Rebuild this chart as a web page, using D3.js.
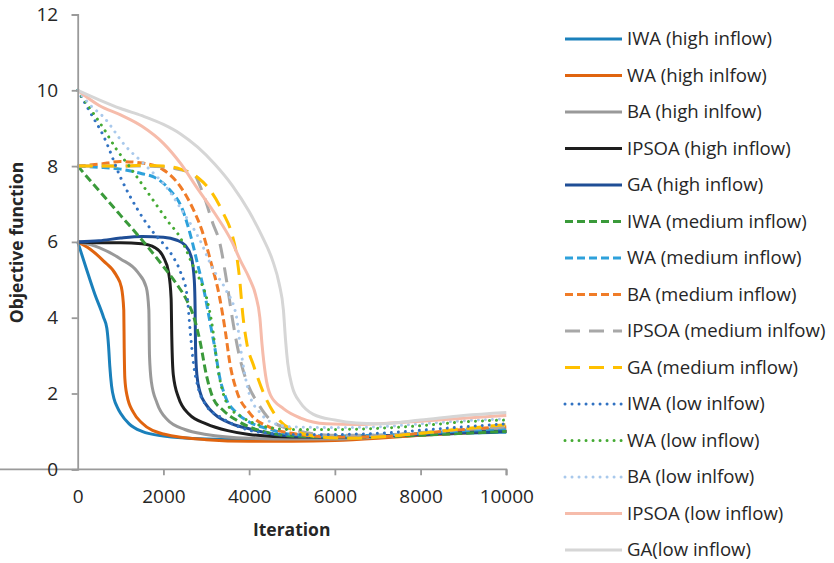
<!DOCTYPE html>
<html><head><meta charset="utf-8">
<script src="https://cdn.jsdelivr.net/npm/d3@7"></script>
<style>
html,body{margin:0;padding:0;background:#fff;}
svg{display:block;font-family:"Open Sans",sans-serif;}
</style></head>
<body><svg id="chart" width="834" height="563"></svg>
<script>
// ---- data (iteration, objective function) ----
const iwaHigh = [[0,6],[200,5.3],[400,4.62],[600,4.02],[680,3.72],[720,3.25],[750,2.7],[790,2.2],[850,1.85],[920,1.65],[1000,1.48],[1200,1.2],[1500,1.0],[2000,0.88],[3000,0.8],[4000,0.78],[5000,0.78],[6000,0.8],[7000,0.85],[8000,0.9],[9000,0.95],[10000,0.98]];
const waHigh = [[0,6],[300,5.8],[600,5.5],[900,5.12],[1020,4.8],[1075,4.2],[1085,3.2],[1100,2.4],[1150,1.95],[1300,1.5],[1500,1.22],[2000,0.93],[3000,0.78],[4000,0.74],[5000,0.74],[6000,0.76],[7000,0.82],[8000,0.9],[9000,0.96],[10000,1.02]];
const baHigh = [[0,6],[500,5.85],[1000,5.55],[1400,5.2],[1600,4.8],[1660,4.2],[1675,3.0],[1720,2.3],[1850,1.75],[2100,1.3],[2500,1.05],[3000,0.92],[4000,0.82],[5000,0.8],[6000,0.8],[7000,0.85],[8000,0.92],[9000,1.0],[10000,1.05]];
const ipsoaHigh = [[0,6],[500,5.98],[1000,5.98],[1500,5.95],[1800,5.85],[2000,5.6],[2120,5.2],[2180,4.5],[2195,3.5],[2230,2.5],[2350,1.9],[2600,1.45],[3000,1.2],[3500,1.02],[4000,0.92],[5000,0.85],[6000,0.85],[7000,0.88],[8000,0.92],[9000,0.97],[10000,1.0]];
const gaHigh = [[0,6],[500,6.03],[1000,6.1],[1500,6.14],[2000,6.12],[2300,6.05],[2500,5.92],[2650,5.6],[2720,5.0],[2740,4.2],[2750,3.2],[2780,2.5],[2850,2.05],[3000,1.7],[3200,1.45],[3600,1.2],[4000,1.07],[4600,0.92],[5000,0.88],[6000,0.85],[7000,0.88],[8000,0.92],[9000,0.97],[10000,1.0]];
const iwaMedium = [[0,8],[500,7.35],[1000,6.7],[1500,6.05],[2000,5.35],[2300,4.9],[2550,4.45],[2700,4.05],[2850,3.4],[3000,2.5],[3150,1.9],[3400,1.55],[3700,1.3],[4000,1.12],[4400,0.98],[5000,0.88],[6000,0.85],[7000,0.86],[8000,0.9],[9000,0.95],[10000,1.0]];
const waMedium = [[0,8],[500,7.97],[1000,7.92],[1500,7.8],[1800,7.7],[2150,7.37],[2450,6.84],[2650,6.1],[2800,5.4],[2950,4.7],[3100,3.8],[3200,3.2],[3300,2.5],[3450,1.9],[3700,1.5],[4000,1.25],[4500,1.05],[5000,0.92],[6000,0.88],[7000,0.9],[8000,0.95],[9000,1.02],[10000,1.08]];
const baMedium = [[0,8],[500,8.05],[1000,8.12],[1500,8.08],[2000,7.9],[2400,7.45],[2700,6.85],[2900,6.3],[3100,5.5],[3300,4.6],[3450,3.6],[3550,2.8],[3700,2.1],[4000,1.5],[4500,1.1],[5000,0.95],[6000,0.85],[7000,0.86],[8000,0.95],[9000,1.05],[10000,1.12]];
const ipsoaMedium = [[0,8],[500,8.0],[1000,8.0],[1500,8.0],[2000,7.98],[2400,7.9],[2700,7.8],[2900,7.35],[3150,6.5],[3320,5.95],[3470,5.0],[3620,3.9],[3770,3.0],[3950,2.3],[4200,1.75],[4500,1.3],[5000,1.05],[6000,0.9],[7000,0.9],[8000,0.97],[9000,1.05],[10000,1.12]];
const gaMedium = [[0,8],[500,8.0],[1000,8.0],[1500,8.02],[2000,8.0],[2400,7.92],[2800,7.7],[3100,7.35],[3400,6.75],[3600,6.2],[3700,5.7],[3780,5.0],[3850,4.1],[3950,3.3],[4100,2.75],[4400,1.85],[4700,1.3],[5100,1.0],[5700,0.85],[6500,0.82],[7000,0.85],[8000,0.95],[9000,1.07],[10000,1.18]];
const iwaLow = [[0,10],[300,9.4],[600,8.8],[1000,7.7],[1400,6.85],[1800,6.2],[2000,5.95],[2200,5.65],[2400,5.2],[2550,4.6],[2620,3.7],[2700,2.8],[2800,2.2],[3000,1.68],[3300,1.4],[3700,1.15],[4000,1.03],[4500,0.95],[5000,0.92],[6000,0.92],[7000,0.95],[8000,1.03],[9000,1.12],[10000,1.2]];
const waLow = [[0,10],[300,9.5],[600,9.0],[900,8.45],[1200,8.0],[1700,7.2],[2100,6.55],[2400,6.1],[2700,5.35],[2850,5.0],[3000,4.55],[3150,3.7],[3250,2.8],[3350,2.2],[3500,1.7],[3800,1.4],[4200,1.18],[4600,1.08],[5000,1.05],[6000,1.05],[7000,1.08],[8000,1.15],[9000,1.25],[10000,1.3]];
const baLow = [[0,10],[300,9.6],[600,9.3],[1100,8.55],[1600,8.0],[2100,7.4],[2450,6.8],[2850,6.05],[3150,5.3],[3450,4.75],[3700,4.05],[3800,3.2],[3900,2.5],[4000,2.0],[4250,1.5],[4600,1.2],[5000,1.12],[6000,1.1],[7000,1.12],[8000,1.2],[9000,1.28],[10000,1.33]];
const ipsoaLow = [[0,10],[500,9.6],[1000,9.35],[1500,9.05],[2000,8.6],[2400,8.07],[2800,7.4],[3200,6.75],[3600,6.0],[3800,5.5],[4000,5.05],[4150,4.6],[4250,4.0],[4300,3.3],[4380,2.5],[4500,1.95],[4800,1.6],[5200,1.35],[5800,1.2],[6500,1.18],[7000,1.2],[8000,1.27],[9000,1.35],[10000,1.42]];
const gaLow = [[0,10],[500,9.75],[1000,9.52],[1500,9.33],[2000,9.1],[2400,8.85],[2800,8.5],[3200,8.05],[3600,7.5],[4000,6.8],[4300,6.15],[4550,5.5],[4700,4.9],[4800,4.2],[4850,3.4],[4900,2.8],[5000,2.2],[5200,1.75],[5500,1.45],[6000,1.3],[6500,1.22],[7000,1.2],[8000,1.3],[9000,1.42],[10000,1.5]];

const seriesNames = ["IWA (high inflow)","WA (high inlfow)","BA (high inlfow)","IPSOA (high inflow)","GA (high inflow)",
  "IWA (medium inflow)","WA (medium inflow)","BA (medium inflow)","IPSOA (medium inlfow)","GA (medium inflow)",
  "IWA (low inlfow)","WA (low inflow)","BA (low inlfow)","IPSOA (low inflow)","GA(low inflow)"];
const seriesData = [iwaHigh,waHigh,baHigh,ipsoaHigh,gaHigh,iwaMedium,waMedium,baMedium,ipsoaMedium,gaMedium,iwaLow,waLow,baLow,ipsoaLow,gaLow];
const xTicks = [0,2000,4000,6000,8000,10000];
const yTicks = [0,2,4,6,8,10,12];

// ---- styles ----
const colors = ["#1a80bb","#e0640f","#999999","#1e1e1e","#1f4e96",
  "#3a9a3a","#2ea1db","#f07c28","#a8a8a8","#ffc000",
  "#3172c2","#44aa33","#a9c9ec","#f6bcab","#d6d6d6"];
const SHORT="8,4", LONG="15,9", DOT="0.01,7", SOLID=null;
const dashes = [SOLID,SOLID,SOLID,SOLID,SOLID, SHORT,SHORT,SHORT,LONG,LONG, DOT,DOT,DOT,SOLID,SOLID];

const svg = d3.select("#chart");
const x = d3.scaleLinear().domain([0,10000]).range([77.7,506.3]);
const y = d3.scaleLinear().domain([0,12]).range([469.3,14.5]);

const line = d3.line().x(d=>x(d[0])).y(d=>y(d[1])).curve(d3.curveMonotoneX);

const lines = svg.append("g");
seriesData.forEach((s,i)=>{
  lines.append("path").datum(s).attr("d",line)
    .attr("fill","none").attr("stroke",colors[i])
    .attr("stroke-width", 3)
    .attr("stroke-linecap", dashes[i]===DOT ? "round" : "butt")
    .attr("stroke-linejoin","round")
    .attr("stroke-dasharray", dashes[i]);
});

// axes
const axisColor = "#9a9a9a";
const gx = svg.append("g").attr("transform",`translate(0,${y(0)})`)
  .call(d3.axisBottom(x).tickValues(xTicks).tickFormat(d3.format("d")).tickSize(6).tickPadding(14));
const gy = svg.append("g").attr("transform",`translate(${x(0)},0)`)
  .call(d3.axisLeft(y).tickValues(yTicks).tickSize(6).tickPadding(13.5));
[gx,gy].forEach(g=>{
  g.select(".domain").attr("stroke",axisColor).attr("stroke-width",1.8);
  g.selectAll(".tick line").attr("stroke",axisColor).attr("stroke-width",1.8);
  g.selectAll(".tick text").attr("fill","#262626").style("font-size","19px").style("font-family","'Open Sans',sans-serif");
});
gx.select(".domain").attr("d",`M${-6},0H${x(10000)}V6`);
gx.selectAll(".tick").filter(d=>d===0).select("line").remove();

svg.append("text").attr("x",291.7).attr("y",536).attr("text-anchor","middle")
  .style("font-size","17.5px").style("font-weight","bold").attr("fill","#262626").text("Iteration");
svg.append("text").attr("transform","translate(23,242.5) rotate(-90)").attr("text-anchor","middle")
  .style("font-size","17.5px").style("font-weight","bold").attr("fill","#262626").text("Objective function");

// legend
const lg = svg.append("g");
seriesNames.forEach((n,i)=>{
  const ry = 39 + i*36.5;
  lg.append("line").attr("x1",565).attr("x2",622).attr("y1",ry).attr("y2",ry)
    .attr("stroke",colors[i]).attr("stroke-width",3)
    .attr("stroke-linecap", dashes[i]===DOT ? "round" : "butt")
    .attr("stroke-dasharray", dashes[i]);
  lg.append("text").attr("x",627).attr("y",ry+6.3).style("font-size","18.6px").attr("fill","#262626").text(n);
});
</script></body></html>
